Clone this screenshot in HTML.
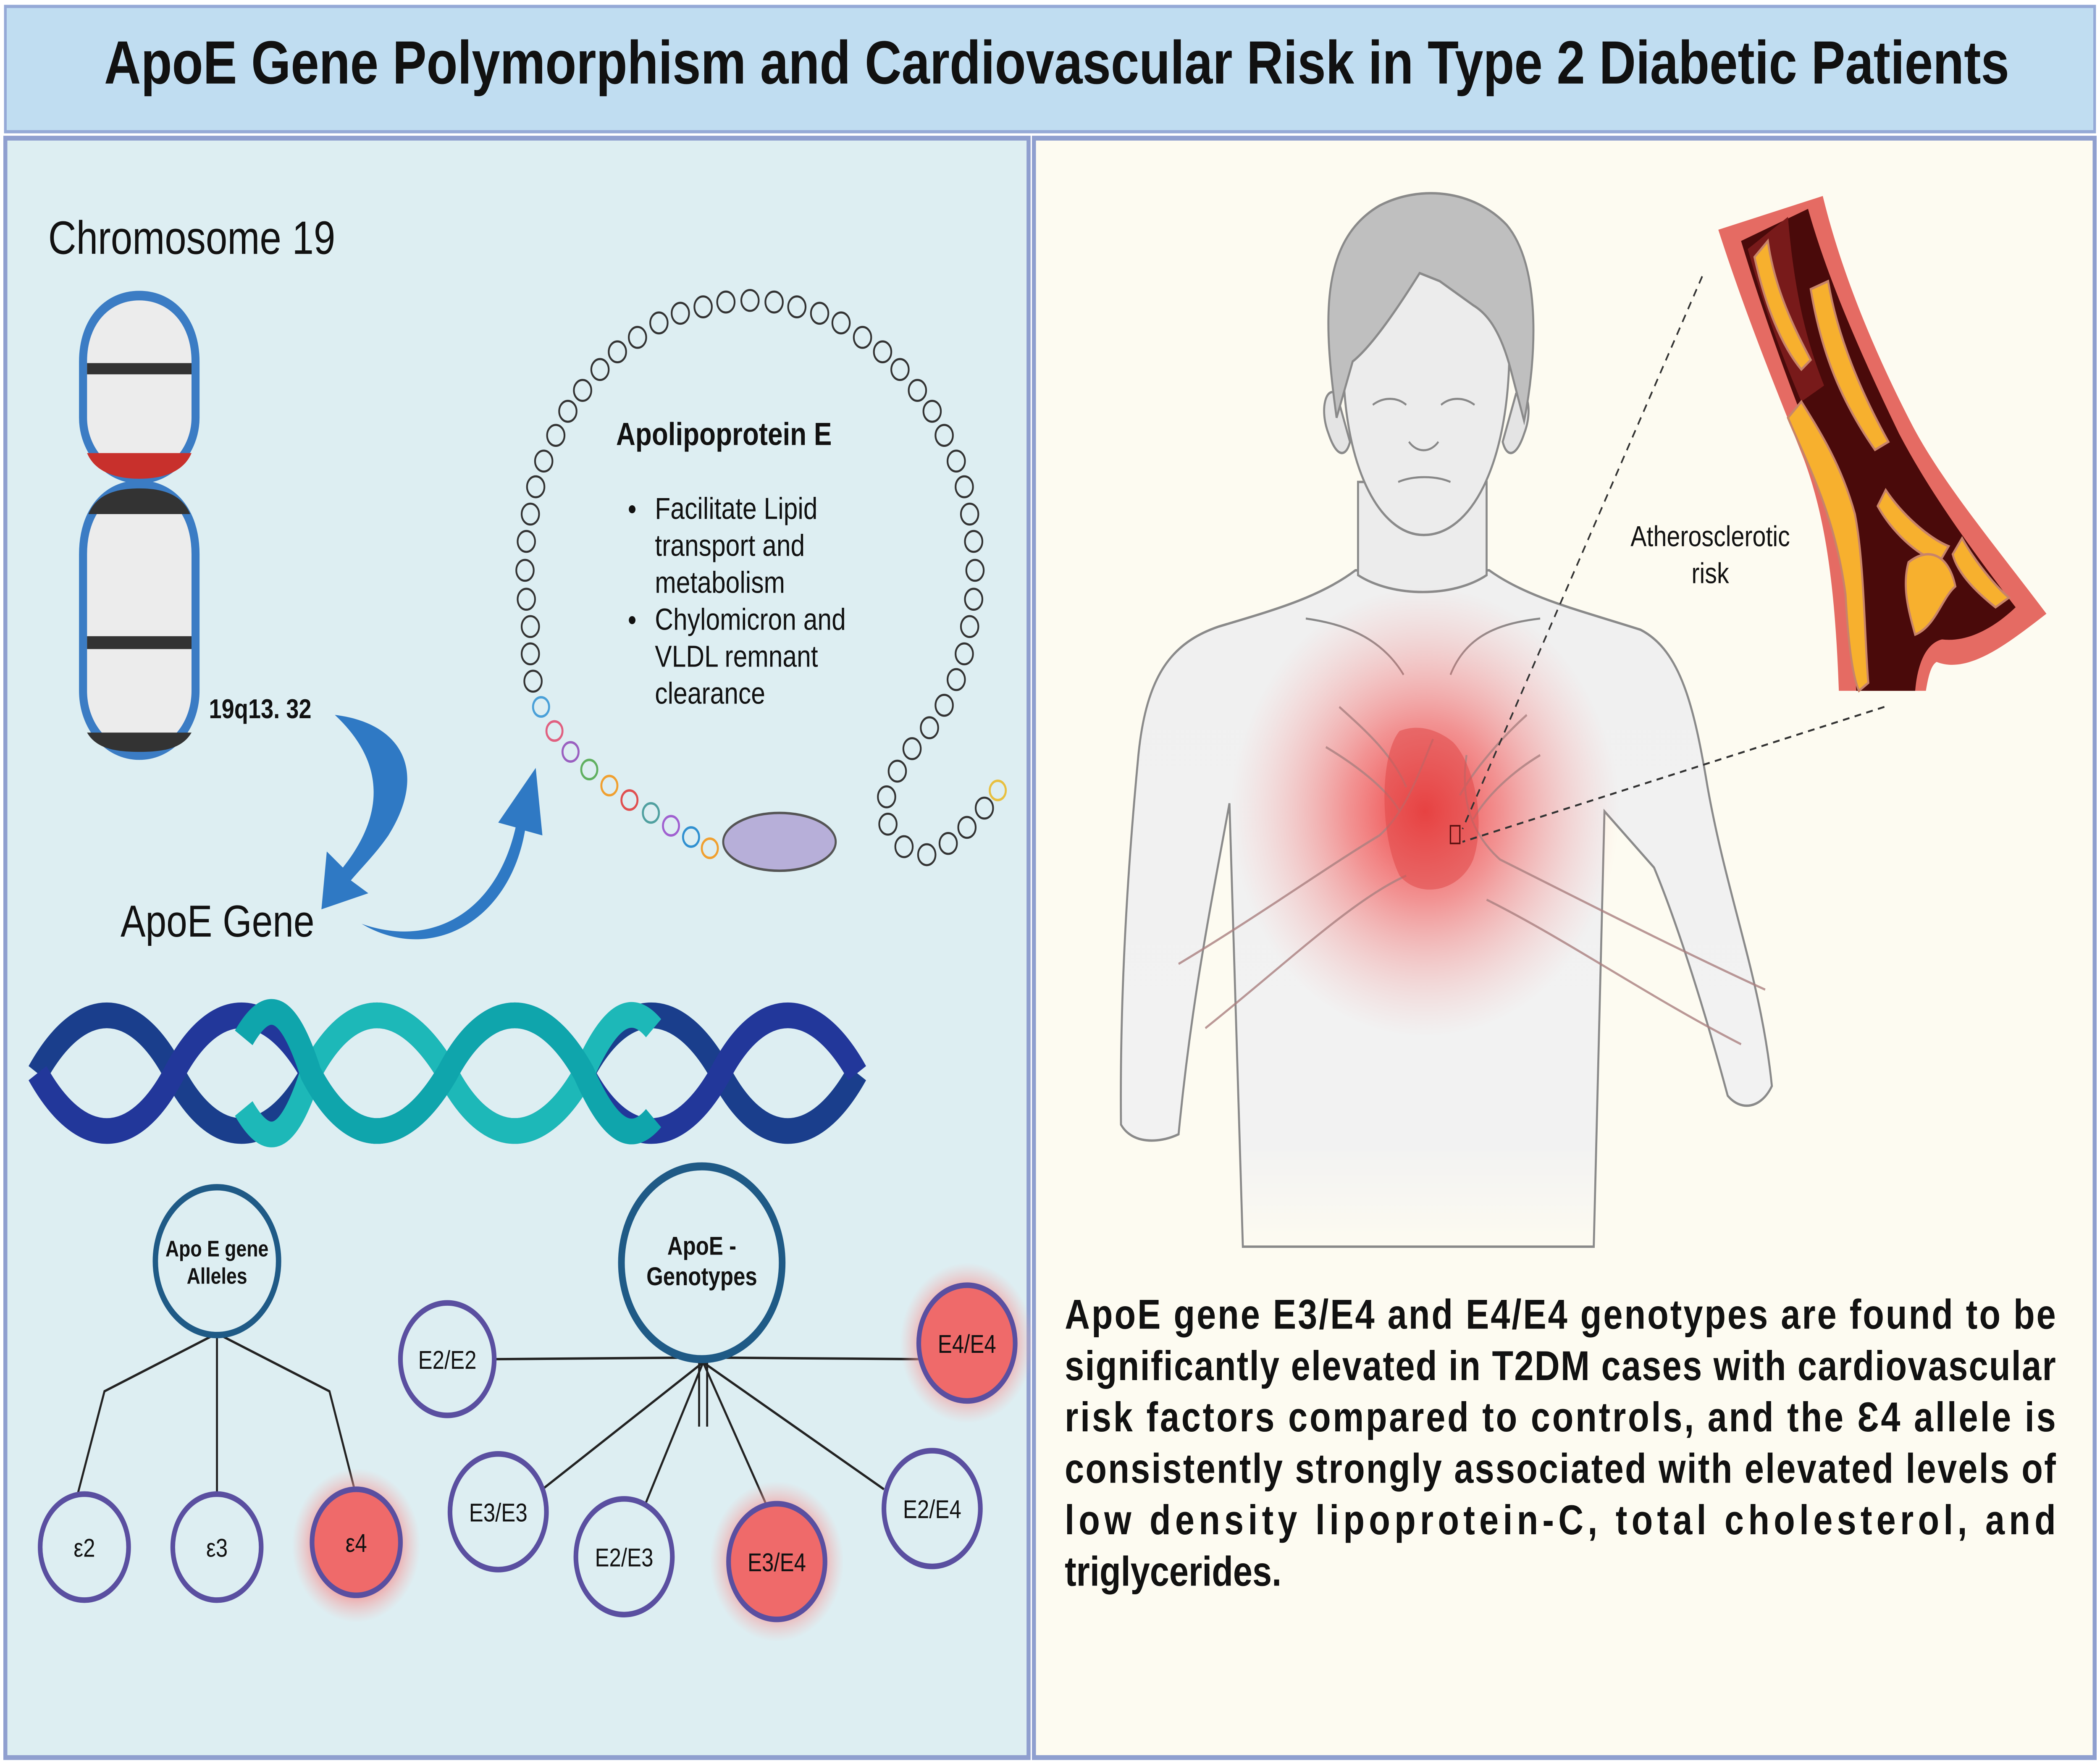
<!DOCTYPE html>
<html><head><meta charset="utf-8">
<style>
html,body{margin:0;padding:0;background:#fff;width:6000px;height:4200px;overflow:hidden;}
svg{display:block;position:absolute;left:0;top:0;width:100vw;height:100vh;}
text{font-family:"Liberation Sans",sans-serif;}
</style></head>
<body>
<svg viewBox="0 0 1568 1098" preserveAspectRatio="none" xmlns="http://www.w3.org/2000/svg">
<defs>
<radialGradient id="glow" cx="50%" cy="50%" r="50%">
<stop offset="0" stop-color="#f03030" stop-opacity="0.95"/>
<stop offset="0.4" stop-color="#f25555" stop-opacity="0.6"/>
<stop offset="1" stop-color="#f7a0a0" stop-opacity="0"/>
</radialGradient>
<radialGradient id="rg" cx="50%" cy="50%" r="50%">
<stop offset="0" stop-color="#f06060"/>
<stop offset="0.55" stop-color="#f38a8a"/>
<stop offset="1" stop-color="#f6b0b0" stop-opacity="0"/>
</radialGradient>
<linearGradient id="fadeb" x1="0" y1="0" x2="0" y2="1">
<stop offset="0" stop-color="#f0f0f0"/><stop offset="0.85" stop-color="#f2f2f2"/><stop offset="1" stop-color="#fdfbf1"/>
</linearGradient>
</defs>
<rect width="1568" height="1098" fill="#ffffff"/>
<rect x="4" y="4" width="1560" height="78" fill="#c0ddf1" stroke="#95a9d6" stroke-width="2"/>
<text x="789" y="52" font-size="38" font-weight="bold" text-anchor="middle" fill="#111">ApoE Gene Polymorphism and Cardiovascular Risk in Type 2 Diabetic Patients</text>
<rect x="4" y="86" width="764" height="1008" fill="#ddeef2" stroke="#8f9fcf" stroke-width="3"/>
<rect x="772" y="86" width="792" height="1008" fill="#fdfbf1" stroke="#8f9fcf" stroke-width="3"/>

<text x="36" y="158" font-size="29" fill="#111">Chromosome 19</text>
<path d="M104,184 C80,184 62,200 62,225 L62,260 C62,280 80,298 104,298 C128,298 146,280 146,260 L146,225 C146,200 128,184 104,184 Z" fill="#ececec" stroke="#3b7cc4" stroke-width="6"/>
<rect x="65" y="226" width="78" height="7" fill="#333"/>
<path d="M65,282 L143,282 C138,292 125,298 104,298 C83,298 70,292 65,282 Z" fill="#c8302c"/>
<path d="M104,302 C80,302 62,318 62,345 L62,430 C62,452 80,470 104,470 C128,470 146,452 146,430 L146,345 C146,318 128,302 104,302 Z" fill="#ececec" stroke="#3b7cc4" stroke-width="6"/>
<path d="M66,320 L142,320 C136,308 122,304 104,304 C86,304 72,308 66,320 Z" fill="#333"/>
<rect x="65" y="396" width="78" height="8" fill="#333"/>
<path d="M65,456 L143,456 C136,466 122,468 104,468 C86,468 72,466 65,456 Z" fill="#333"/>
<text x="156" y="447" font-size="17" font-weight="bold" fill="#111">19q13. 32</text>
<path d="M250,445 C300,450 320,480 290,520 C280,532 270,540 262,548 L275,556 L240,566 L244,530 L256,540 C280,515 295,480 250,445 Z" fill="#2f79c4"/>
<path d="M270,575 C320,590 370,570 385,515 L372,512 L400,478 L405,520 L392,517 C380,575 320,600 270,575 Z" fill="#2f79c4"/>
<text x="90" y="583" font-size="28" fill="#111">ApoE Gene</text>

<g fill="none" stroke="#333" stroke-width="1.3">
<circle cx="398" cy="424" r="6.5"/><circle cx="396" cy="407" r="6.5"/>
<circle cx="396" cy="390" r="6.5"/><circle cx="393" cy="373" r="6.5"/><circle cx="392" cy="355" r="6.5"/><circle cx="393" cy="337" r="6.5"/>
<circle cx="396" cy="320" r="6.5"/><circle cx="400" cy="303" r="6.5"/><circle cx="406" cy="287" r="6.5"/><circle cx="415" cy="271" r="6.5"/>
<circle cx="424" cy="256" r="6.5"/><circle cx="435" cy="243" r="6.5"/><circle cx="448" cy="230" r="6.5"/><circle cx="461" cy="219" r="6.5"/>
<circle cx="476" cy="210" r="6.5"/><circle cx="492" cy="201" r="6.5"/><circle cx="508" cy="195" r="6.5"/><circle cx="525" cy="191" r="6.5"/>
<circle cx="542" cy="188" r="6.5"/><circle cx="560" cy="187" r="6.5"/><circle cx="578" cy="188" r="6.5"/><circle cx="595" cy="191" r="6.5"/>
<circle cx="612" cy="195" r="6.5"/><circle cx="628" cy="201" r="6.5"/><circle cx="644" cy="210" r="6.5"/><circle cx="659" cy="219" r="6.5"/>
<circle cx="672" cy="230" r="6.5"/><circle cx="685" cy="243" r="6.5"/><circle cx="696" cy="256" r="6.5"/><circle cx="705" cy="271" r="6.5"/>
<circle cx="714" cy="287" r="6.5"/><circle cx="720" cy="303" r="6.5"/><circle cx="724" cy="320" r="6.5"/><circle cx="727" cy="337" r="6.5"/>
<circle cx="728" cy="355" r="6.5"/><circle cx="727" cy="373" r="6.5"/><circle cx="724" cy="390" r="6.5"/><circle cx="720" cy="407" r="6.5"/>
<circle cx="714" cy="423" r="6.5"/><circle cx="705" cy="439" r="6.5"/><circle cx="694" cy="453" r="6.5"/><circle cx="681" cy="466" r="6.5"/>
<circle cx="670" cy="480" r="6.5"/><circle cx="662" cy="496" r="6.5"/><circle cx="663" cy="513" r="6.5"/><circle cx="675" cy="527" r="6.5"/>
<circle cx="692" cy="532" r="6.5"/><circle cx="708" cy="525" r="6.5"/><circle cx="722" cy="515" r="6.5"/><circle cx="735" cy="503" r="6.5"/>
</g>
<g fill="none" stroke-width="1.5">
<circle cx="404" cy="440" r="6" stroke="#4aa0d8"/><circle cx="414" cy="455" r="6" stroke="#e06080"/>
<circle cx="426" cy="468" r="6" stroke="#9a60c0"/><circle cx="440" cy="479" r="6" stroke="#60b060"/>
<circle cx="455" cy="489" r="6" stroke="#f0a030"/><circle cx="470" cy="498" r="6" stroke="#e05050"/>
<circle cx="486" cy="506" r="6" stroke="#50a0a0"/><circle cx="501" cy="514" r="6" stroke="#a060d0"/>
<circle cx="516" cy="521" r="6" stroke="#3090d0"/><circle cx="530" cy="528" r="6" stroke="#f0a030"/>
<circle cx="745" cy="492" r="6" stroke="#e8c040"/>
</g>
<ellipse cx="582" cy="524" rx="42" ry="18" fill="#b7afd9" stroke="#555" stroke-width="1.5"/>
<text x="460" y="277" font-size="20" font-weight="bold" fill="#111">Apolipoprotein E</text>
<g font-size="19" fill="#111">
<circle cx="472" cy="317" r="2.5" fill="#111"/>
<text x="489" y="323">Facilitate Lipid</text>
<text x="489" y="346">transport and</text>
<text x="489" y="369">metabolism</text>
<circle cx="472" cy="386" r="2.5" fill="#111"/>
<text x="489" y="392">Chylomicron and</text>
<text x="489" y="415">VLDL remnant</text>
<text x="489" y="438">clearance</text>
</g>

<g fill="none" stroke-width="16">
<path d="M28,668 C60,620 100,620 130,668 C160,716 200,716 232,668 C262,620 300,620 334,668 C364,716 404,716 436,668 C466,620 506,620 538,668 C568,716 608,716 640,668" stroke="#1a3e8c"/>
<path d="M28,668 C60,716 100,716 130,668 C160,620 200,620 232,668 C262,716 300,716 334,668 C364,620 404,620 436,668 C466,716 506,716 538,668 C568,620 608,620 640,668" stroke="#22379a"/>
<path d="M182,690 C200,716 215,712 232,668 C262,620 300,620 334,668 C364,716 404,716 436,668 C456,630 472,624 488,640" stroke="#1db8b8"/>
<path d="M182,646 C200,620 215,624 232,668 C262,716 300,716 334,668 C364,620 404,620 436,668 C456,706 472,712 488,696" stroke="#0fa5ac"/>
</g>

<g stroke="#222" stroke-width="1.5" fill="none">
<line x1="162" y1="830" x2="162" y2="930"/>
<polyline points="162,830 78,866 58,930"/>
<polyline points="162,830 246,866 265,928"/>
<line x1="525" y1="845" x2="370" y2="846"/>
<line x1="525" y1="845" x2="686" y2="846"/>
<line x1="522" y1="845" x2="522" y2="888"/><line x1="528" y1="845" x2="528" y2="888"/>
<line x1="525" y1="848" x2="405" y2="927"/>
<line x1="525" y1="848" x2="480" y2="940"/>
<line x1="525" y1="848" x2="574" y2="940"/>
<line x1="525" y1="848" x2="660" y2="927"/>
</g>
<circle cx="266" cy="962" r="48" fill="url(#rg)"/>
<circle cx="580" cy="972" r="50" fill="url(#rg)"/>
<circle cx="722" cy="836" r="50" fill="url(#rg)"/>
<g stroke="#5a4fa0" stroke-width="3.5" fill="#ddeef2">
<circle cx="162" cy="785" r="46" stroke="#1f5a86" stroke-width="4"/>
<circle cx="524" cy="786" r="60" stroke="#1f5a86" stroke-width="5"/>
<circle cx="63" cy="963" r="33"/><circle cx="162" cy="963" r="33"/>
<circle cx="266" cy="960" r="33" fill="#ef6a6a"/>
<circle cx="334" cy="846" r="35"/>
<circle cx="722" cy="836" r="36" fill="#ef6a6a"/>
<circle cx="372" cy="941" r="36"/>
<circle cx="466" cy="969" r="36"/>
<circle cx="580" cy="972" r="36" fill="#ef6a6a"/>
<circle cx="696" cy="939" r="36"/>
</g>
<g font-size="16" text-anchor="middle" fill="#111">
<text x="162" y="782" font-size="14" font-weight="bold">Apo E gene</text>
<text x="162" y="799" font-size="14" font-weight="bold">Alleles</text>
<text x="524" y="781" font-weight="bold">ApoE -</text>
<text x="524" y="800" font-weight="bold">Genotypes</text>
<text x="63" y="969">ε2</text><text x="162" y="969">ε3</text><text x="266" y="966">ε4</text>
<text x="334" y="852">E2/E2</text><text x="722" y="842">E4/E4</text>
<text x="372" y="947">E3/E3</text><text x="466" y="975">E2/E3</text>
<text x="580" y="978">E3/E4</text><text x="696" y="945">E2/E4</text>
</g>

<!-- person -->
<g stroke="#8a8a8a" stroke-width="1.5">
<path d="M837,700 C836,620 842,540 850,470 C856,420 875,400 910,390 C950,380 985,372 1012,355 L1112,355 C1140,372 1180,380 1225,392 C1255,405 1265,440 1275,490 C1290,560 1315,610 1323,676 C1315,690 1300,692 1290,682 C1270,620 1250,570 1235,540 L1198,505 L1190,776 L928,776 L918,500 C905,560 890,620 880,706 C865,712 845,712 837,700 Z" fill="url(#fadeb)"/>
<path d="M1014,300 L1014,358 C1040,372 1085,372 1110,358 L1110,300 Z" fill="#ececec"/>
<path d="M1003,220 C1002,290 1030,333 1063,333 C1098,333 1126,290 1127,220 C1127,180 1100,160 1065,160 C1030,160 1003,180 1003,220 Z" fill="#ececec"/>
<path d="M998,245 C990,240 985,255 992,270 C998,285 1005,285 1008,275 Z" fill="#e4e4e4"/>
<path d="M1132,245 C1140,240 1145,255 1138,270 C1132,285 1125,285 1122,275 Z" fill="#e4e4e4"/>
<path d="M998,260 C988,200 985,150 1030,128 C1060,115 1100,118 1125,140 C1150,165 1148,220 1138,262 L1128,230 C1120,205 1110,195 1100,190 L1075,175 L1060,170 C1045,190 1025,215 1010,225 Z" fill="#bfbfbf"/>
</g>
<g stroke="#888" stroke-width="1.3" fill="none">
<path d="M1025,252 C1033,247 1043,247 1050,252"/><path d="M1076,252 C1083,247 1093,247 1101,252"/>
<path d="M1052,275 C1058,282 1068,282 1074,275"/><path d="M1044,300 C1055,296 1072,296 1083,300"/>
<path d="M975,385 C1000,388 1030,395 1048,420"/><path d="M1150,385 C1120,388 1095,395 1083,420"/>
</g>
<ellipse cx="1064" cy="505" rx="145" ry="140" fill="url(#glow)"/>
<g stroke="#aa8080" stroke-width="1.4" fill="none" opacity="0.8">
<path d="M880,600 C940,570 990,540 1030,520 C1050,505 1060,480 1070,460"/>
<path d="M900,640 C960,600 1010,560 1050,545"/>
<path d="M1318,616 C1250,590 1180,560 1120,535 C1100,520 1090,500 1095,470"/>
<path d="M1300,650 C1230,620 1170,585 1110,560"/>
<path d="M1000,440 C1020,455 1040,470 1050,490"/><path d="M990,465 C1010,475 1035,490 1045,505"/>
<path d="M1140,445 C1120,460 1100,480 1090,495"/><path d="M1150,470 C1130,480 1110,495 1100,510"/>
</g>
<path d="M1045,455 C1030,470 1030,520 1045,545 C1060,560 1090,555 1100,535 C1110,510 1100,475 1085,462 C1075,455 1060,450 1045,455 Z" fill="#e04848" opacity="0.55"/>
<!-- artery -->
<path d="M1283,143 C1305,200 1330,250 1347,286 C1362,320 1370,360 1373,430 L1438,430 C1440,420 1442,414 1446,412 C1470,420 1500,400 1528,382 C1490,340 1450,300 1428,265 C1400,220 1375,170 1361,122 Z" fill="#e56b63"/>
<path d="M1300,150 C1320,205 1343,255 1360,290 C1375,325 1382,365 1386,430 L1430,430 C1432,410 1440,400 1450,398 C1470,400 1490,390 1505,378 C1470,340 1440,305 1418,270 C1392,225 1365,175 1350,130 Z" fill="#4a0a0a"/>
<path d="M1305,155 C1320,200 1335,230 1345,250 L1362,240 C1350,215 1340,185 1335,135 Z" fill="#781a1a"/>
<g fill="#f7b02e" stroke="#c8846a" stroke-width="1.5">
<path d="M1310,160 C1318,190 1330,215 1345,230 L1352,224 C1340,205 1325,180 1320,150 Z"/>
<path d="M1352,180 C1360,220 1375,250 1400,280 L1410,275 C1390,245 1372,210 1365,175 Z"/>
<path d="M1335,260 C1350,290 1370,320 1378,370 C1380,400 1383,420 1388,430 L1395,425 C1392,395 1392,350 1385,320 C1375,290 1360,270 1345,250 Z"/>
<path d="M1408,305 C1420,320 1440,335 1455,340 L1448,350 C1430,345 1412,330 1402,315 Z"/>
<path d="M1425,350 C1440,340 1455,345 1460,365 C1450,372 1445,390 1430,395 C1425,380 1420,365 1425,350 Z"/>
<path d="M1465,335 C1475,350 1490,365 1500,372 L1490,378 C1478,370 1462,358 1458,345 Z"/>
</g>
<g stroke="#333" stroke-width="1.2" stroke-dasharray="5,4" fill="none">
<line x1="1271" y1="172" x2="1092" y2="516"/>
<line x1="1407" y1="440" x2="1092" y2="524"/>
</g>
<rect x="1083" y="514" width="7" height="11" fill="none" stroke="#5a1010" stroke-width="1"/>
<text x="1277" y="340" font-size="18" text-anchor="middle" fill="#111">Atherosclerotic</text>
<text x="1277" y="363" font-size="18" text-anchor="middle" fill="#111">risk</text>

<g font-size="26" font-weight="bold" fill="#111">
<text x="795" y="827" textLength="740" lengthAdjust="spacing">ApoE gene E3/E4 and E4/E4 genotypes are found to be</text>
<text x="795" y="859" textLength="740" lengthAdjust="spacing">significantly elevated in T2DM cases with cardiovascular</text>
<text x="795" y="891" textLength="740" lengthAdjust="spacing">risk factors compared to controls, and the Ɛ4 allele is</text>
<text x="795" y="923" textLength="740" lengthAdjust="spacing">consistently strongly associated with elevated levels of</text>
<text x="795" y="955" textLength="740" lengthAdjust="spacing">low density lipoprotein-C, total cholesterol, and</text>
<text x="795" y="987">triglycerides.</text>
</g>
</svg>
</body></html>
